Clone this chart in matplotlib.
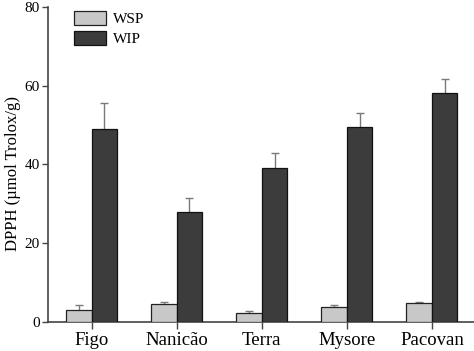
import matplotlib
matplotlib.use('Agg')
import matplotlib.pyplot as plt
import numpy as np

plt.rcParams['font.family'] = ['Liberation Serif', 'DejaVu Serif']

cultivars = ['Figo', 'Nanicão', 'Terra', 'Mysore', 'Pacovan']
wsp = [3.1, 4.6, 2.2, 3.9, 4.7]
wsp_err = [1.2, 0.4, 0.6, 0.4, 0.3]
wip = [49.0, 27.8, 39.1, 49.6, 58.2]
wip_err = [6.7, 3.8, 3.9, 3.4, 3.5]

x = np.arange(len(cultivars))
w = 0.3

fig = plt.figure(figsize=(4.74, 3.51), dpi=100)
ax1 = fig.add_axes([0.101, 0.083, 0.899, 0.897])

ax1.bar(x - w/2, wsp, w, color='#c8c8c8', edgecolor='#222222', linewidth=0.9, label='WSP', zorder=3)
ax1.bar(x + w/2, wip, w, color='#3c3c3c', edgecolor='#111111', linewidth=0.9, label='WIP', zorder=3)

# upper error bars only
for xs, vals, errs in [(x - w/2, wsp, wsp_err), (x + w/2, wip, wip_err)]:
    eb = ax1.errorbar(xs, vals, yerr=[np.zeros(len(vals)), errs], fmt='none',
                      ecolor='#7a7a7a', elinewidth=1.0, capsize=3, capthick=1.0, zorder=2)
    eb[1][0].set_visible(False)

ax1.set_xlim(-0.514, 4.494)
ax1.set_ylim(0, 80)
ax1.set_yticks([0, 20, 40, 60, 80])
ax1.set_xticks(x)
ax1.set_xticklabels(cultivars, fontsize=13.5)
ax1.tick_params(axis='y', labelsize=11, direction='out', length=4, width=1, color='#444444', pad=2)
ax1.tick_params(axis='x', direction='out', length=5, width=1, color='#444444', pad=2)
ax1.spines['top'].set_visible(False)
ax1.spines['right'].set_visible(False)
ax1.spines['left'].set_color('#444444')
ax1.spines['bottom'].set_color('#444444')
ax1.spines['left'].set_linewidth(1.2)
ax1.spines['bottom'].set_linewidth(1.2)
ax1.set_ylabel('DPPH (µmol Trolox/g)', fontsize=12)
ax1.yaxis.set_label_coords(-0.062, 0.47)

ax1.legend(loc='upper left', bbox_to_anchor=(0.03, 1.03), frameon=False, fontsize=11,
           handlelength=2.1, handleheight=1.0, labelspacing=0.3, handletextpad=0.4)

fig.savefig('out.png', dpi=100)
